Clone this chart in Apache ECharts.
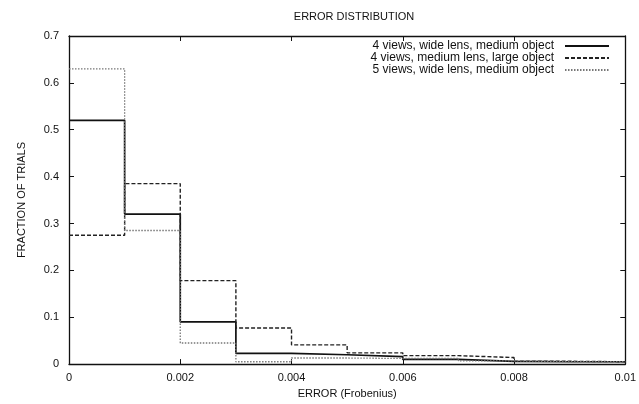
<!DOCTYPE html>
<html>
<head>
<meta charset="utf-8">
<script src="https://cdn.jsdelivr.net/npm/echarts@6/dist/echarts.min.js"></script>
<style>
html,body{margin:0;padding:0;background:#fff;}
#main{width:639px;height:404px;}
</style>
</head>
<body>
<div id="main"></div>
<script>
// bin left edges (width 0.001) and fractions per bin
var binEdges = [0, 0.001, 0.002, 0.003, 0.004, 0.005, 0.006, 0.007, 0.008, 0.009, 0.01];
var wideMedium4 = [0.52, 0.32, 0.09, 0.023, 0.02, 0.016, 0.01, 0.006, 0.005, 0.005];
var mediumLarge4 = [0.275, 0.385, 0.178, 0.077, 0.041, 0.024, 0.018, 0.014, 0.006, 0.005];
var wideMedium5 = [0.63, 0.285, 0.045, 0.005, 0.013, 0.012, 0.012, 0.007, 0.005, 0.005];
var seriesNames = [
	'4 views, wide lens, medium object',
	'4 views, medium lens, large object',
	'5 views, wide lens, medium object'
];
var xTicks = ['0', '0.002', '0.004', '0.006', '0.008', '0.01'];
var yTicks = ['0', '0.1', '0.2', '0.3', '0.4', '0.5', '0.6', '0.7'];

function steps(vals){
	var pts = [];
	for(var i=0;i<vals.length;i++){
		pts.push([binEdges[i], vals[i]]);
	}
	pts.push([binEdges[vals.length], vals[vals.length-1]]);
	return pts;
}

var font = 'Liberation Sans';
var myChart = echarts.init(document.getElementById('main'));

function axisCommon(){
	return {
		axisLine: {show: true, onZero: false, lineStyle: {color: '#111', width: 1.3}},
		axisTick: {show: true, inside: true, length: 5, lineStyle: {color: '#111'}},
		splitLine: {show: false}
	};
}

myChart.setOption({
	animation: false,
	backgroundColor: '#fff',
	textStyle: {fontFamily: font},
	title: {
		text: 'ERROR DISTRIBUTION',
		left: 349,
		textAlign: 'center',
		top: 6,
		textStyle: {fontFamily: font, fontSize: 11, fontWeight: 'normal', color: '#111'}
	},
	legend: {
		orient: 'vertical',
		right: 24,
		top: 35,
		align: 'right',
		itemGap: 0,
		itemWidth: 44,
		itemHeight: 12,
		itemStyle: {opacity: 0},
		textStyle: {fontFamily: font, fontSize: 12, color: '#111', padding: [0, 6, 0, 0]},
		data: seriesNames
	},
	grid: {left: 69, right: 11, top: 36, bottom: 34},
	xAxis: [
		Object.assign(axisCommon(), {
			type: 'value', min: 0, max: 0.01, interval: 0.002,
			name: 'ERROR (Frobenius)', nameLocation: 'middle', nameGap: 21,
			nameTextStyle: {fontFamily: font, fontSize: 11, color: '#111'},
			axisLabel: {
				fontFamily: font, fontSize: 11, color: '#111', margin: 8,
				formatter: function(v){ return xTicks[Math.round(v / 0.002)]; }
			}
		}),
		Object.assign(axisCommon(), {
			type: 'value', position: 'top', min: 0, max: 0.01, interval: 0.002,
			axisLabel: {show: false}
		})
	],
	yAxis: [
		Object.assign(axisCommon(), {
			type: 'value', min: 0, max: 0.7, interval: 0.1,
			name: 'FRACTION OF TRIALS', nameLocation: 'middle', nameGap: 42,
			nameTextStyle: {fontFamily: font, fontSize: 11, color: '#111'},
			axisLabel: {
				fontFamily: font, fontSize: 11, color: '#111', margin: 10,
				formatter: function(v){ return yTicks[Math.round(v / 0.1)]; }
			}
		}),
		Object.assign(axisCommon(), {
			type: 'value', position: 'right', min: 0, max: 0.7, interval: 0.1,
			axisLabel: {show: false}
		})
	],
	series: [
		{
			name: seriesNames[0], type: 'line', step: 'end', symbol: 'none',
			data: steps(wideMedium4), color: '#111',
			lineStyle: {color: '#111', width: 1.7, type: 'solid'}
		},
		{
			name: seriesNames[1], type: 'line', step: 'end', symbol: 'none',
			data: steps(mediumLarge4), color: '#222',
			lineStyle: {color: '#222', width: 1.4, type: [4, 2]}
		},
		{
			name: seriesNames[2], type: 'line', step: 'end', symbol: 'none',
			data: steps(wideMedium5), color: '#777',
			lineStyle: {color: '#777', width: 1.3, type: [1.5, 1.5]}
		}
	]
});
</script>
</body>
</html>
